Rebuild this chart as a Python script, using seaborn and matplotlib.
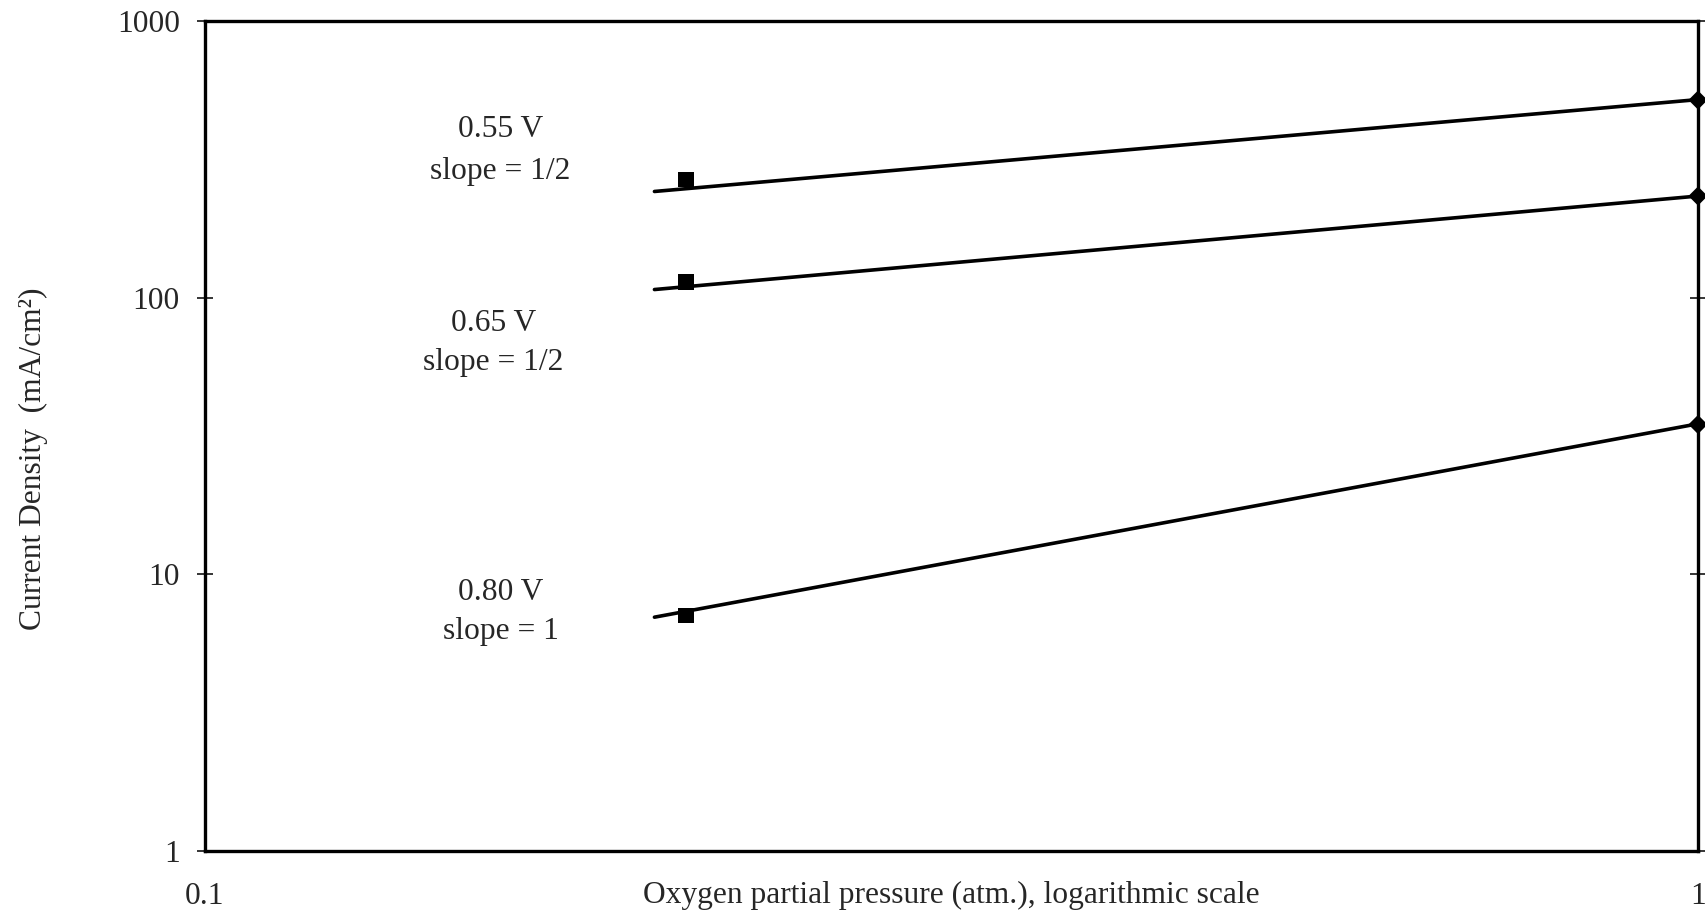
import matplotlib
matplotlib.use("Agg")
import matplotlib.pyplot as plt
import seaborn as sns
import pandas as pd

# Measured current densities (mA/cm^2) at two oxygen partial pressures
voltages = ["0.55 V", "0.65 V", "0.80 V"]
slopes = ["1/2", "1/2", "1"]
air_po2 = 0.21
oxygen_po2 = 1.0
j_air = [267, 114, 7.1]        # square markers
j_oxygen = [518, 233, 34.8]    # diamond markers

# Fitted trend lines, evaluated at their two ends
fit_po2 = [0.2, 1.0]
fit_055 = [242, 520]
fit_065 = [107, 233]
fit_080 = [7.0, 35]

x_ticks = [0.1, 1]
x_tick_labels = ["0.1", "1"]
y_ticks = [1, 10, 100, 1000]
y_tick_labels = ["1", "10", "100", "1000"]

FS = 22.7

sns.set_style("white")
plt.rcParams["font.family"] = ["Liberation Serif", "DejaVu Serif"]

fig = plt.figure(figsize=(17.06, 9.15), dpi=100)
ax = fig.add_axes([205 / 1706, 1 - 851 / 915, (1698 - 205) / 1706, (851 - 21) / 915])

fits = pd.DataFrame({
    "po2": fit_po2 * 3,
    "j": fit_055 + fit_065 + fit_080,
    "v": [voltages[0]] * 2 + [voltages[1]] * 2 + [voltages[2]] * 2,
})
sns.lineplot(data=fits, x="po2", y="j", units="v", estimator=None,
             color="black", linewidth=2.6, ax=ax, legend=False)

air = pd.DataFrame({"po2": [air_po2] * 3, "j": j_air})
oxy = pd.DataFrame({"po2": [oxygen_po2] * 3, "j": j_oxygen})
sns.scatterplot(data=air, x="po2", y="j", marker="s", s=125, color="black",
                edgecolor="none", ax=ax, legend=False, zorder=3)
sns.scatterplot(data=oxy, x="po2", y="j", marker="D", s=95, color="black",
                edgecolor="none", ax=ax, legend=False, zorder=3, clip_on=False)

ax.set_xscale("log")
ax.set_yscale("log")
ax.set_xlim(0.1, 1)
ax.set_ylim(1, 1000)
ax.minorticks_off()
ax.set_xticks(x_ticks)
ax.set_xticklabels(x_tick_labels)
ax.set_yticks(y_ticks)
ax.set_yticklabels(y_tick_labels)

ax.tick_params(axis="x", length=0, pad=22, labelsize=FS)
ax.tick_params(axis="y", direction="inout", length=12, width=1.3,
               pad=12, labelsize=FS, right=True, left=True, labelright=False)

for sp in ax.spines.values():
    sp.set_visible(True)
    sp.set_color("black")
    sp.set_linewidth(2.4)

ax.set_xlabel("Oxygen partial pressure (atm.), logarithmic scale", fontsize=FS)
ax.xaxis.set_label_coords(0.5, -0.036)
ax.xaxis.label.set_va("top")
ax.set_ylabel("Current Density  (mA/cm²)", fontsize=FS)
ax.yaxis.set_label_coords(-0.105, 0.472)

# Curve annotations
label_pos = [(0.198, 0.869, 0.819), (0.193, 0.636, 0.588), (0.198, 0.311, 0.264)]
for v, s, (lx, y1, y2) in zip(voltages, slopes, label_pos):
    ax.text(lx, y1, v, transform=ax.transAxes, ha="center", va="center", fontsize=FS)
    ax.text(lx, y2, f"slope = {s}", transform=ax.transAxes, ha="center", va="center", fontsize=FS)

fig.savefig("out.png", dpi=100, facecolor="white")
